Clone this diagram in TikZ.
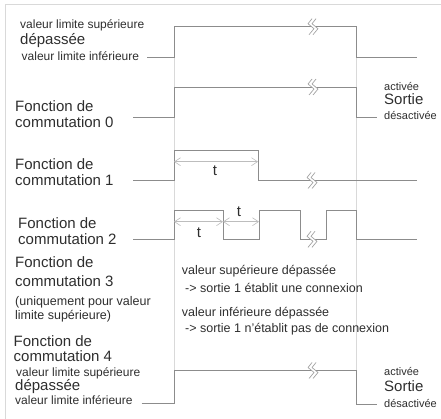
\documentclass[tikz,border=0pt]{standalone}
\usepackage{fontspec}
\setmainfont{Liberation Sans}
\usetikzlibrary{arrows.meta}
\definecolor{sigcol}{HTML}{8C8C8C}
\definecolor{guidecol}{HTML}{D9D9D9}
\definecolor{dimcol}{HTML}{BDBDBD}
\definecolor{txtcol}{HTML}{2E2E2E}

\begin{document}
\begin{tikzpicture}[x=1pt,y=-1pt,
  lbl/.style={inner sep=0pt,anchor=west,text height=.7em,text depth=0pt,text=txtcol},
  big/.style={lbl,font=\fontsize{15}{17}\selectfont},
  sml/.style={lbl,font=\fontsize{12}{14}\selectfont},
  mid/.style={lbl,font=\fontsize{12.5}{14}\selectfont},
  rgt/.style={lbl,font=\fontsize{11}{13}\selectfont},
  sig/.style={draw=sigcol,line width=.9pt},
  guide/.style={draw=guidecol,line width=.8pt},
  dim/.style={draw=dimcol,line width=.6pt,{Straight Barb[length=6pt,width=8pt]}-{Straight Barb[length=6pt,width=8pt]}},
  brk/.pic={
    \fill[white] (1,-8) -- (-3,-3) -- (3,2) -- (-2,8) -- (2,8) -- (7,2) -- (1,-3) -- (5,-8) -- cycle;
    \draw[draw=sigcol!80,line width=.7pt,line join=round] (1,-8) -- (-3,-3) -- (3,2) -- (-2,8) (5,-8) -- (1,-3) -- (7,2) -- (2,8);
  }]
\useasboundingbox (0,0) rectangle (441,419);
\clip (0,0) rectangle (441,419);
\draw[guide] (5.5,419) -- (5.5,4.5) -- (441,4.5);
\draw[guide] (174,26.7) -- (174,403) (356,26.7) -- (356,404);

\draw[sig] (147,57) -- (174,57) -- (174,26.7) -- (356,26.7) -- (356,57) -- (417,57);
\draw[sig] (133,117) -- (174,117) -- (174,87) -- (356,87) -- (356,117) -- (377,117);
\draw[sig] (133,180.5) -- (174,180.5) -- (174,150) -- (258,150) -- (258,180.5) -- (417,180.5);
\draw[sig] (133,239.3) -- (174,239.3) -- (174,210) -- (223,210) -- (223,239.3) -- (259,239.3) -- (259,210) -- (300.7,210)
  -- (300.7,239.3) -- (326,239.3) -- (326,210) -- (356,210) -- (356,239.3) -- (417,239.3);
\draw[sig] (141.7,403) -- (174,403) -- (174,370.5) -- (356,370.5) -- (356,404) -- (377,404);

\pic at (311,26.7) {brk};
\pic at (311,87) {brk};
\pic at (310,180.5) {brk};
\pic at (310,239.3) {brk};
\pic at (311,370.5) {brk};

\coordinate (d1a) at (174,161.7);
\coordinate (d1b) at (258,161.7);
\coordinate (d2a) at (174,221.7);
\coordinate (d2b) at (223,221.7);
\coordinate (d2c) at (259,221.7);
\draw[dim] (d1a) -- (d1b);
\draw[dim] (d2a) -- (d2b);
\draw[dim] (d2b) -- (d2c);
\node[big,anchor=center] (t1) at (215,172) {t};
\node[big,anchor=center] (t2) at (199,234) {t};
\node[big,anchor=center] (t3) at (239,213) {t};

\node[sml] (sa1) at (20,25) {valeur limite supérieure};
\node[big] (sa2) at (20,41.5) {dépassée};
\node[sml] (sa3) at (21.5,57) {valeur limite inférieure};
\node[big] (f0a) at (15,108) {Fonction de};
\node[big] (f0b) at (15,124) {commutation 0};
\node[big] (f1a) at (15,166.5) {Fonction de};
\node[big] (f1b) at (15,182.5) {commutation 1};
\node[big] (f2a) at (18,225) {Fonction de};
\node[big] (f2b) at (18,241.5) {commutation 2};
\node[big] (f3a) at (15,264.5) {Fonction de};
\node[big] (f3b) at (15,282.5) {commutation 3};
\node[mid] (f3c) at (15,302) {(uniquement pour valeur};
\node[mid] (f3d) at (15,315.5) {limite supérieure)};
\node[big] (f4a) at (13.5,343) {Fonction de};
\node[big] (f4b) at (13.5,357.5) {commutation 4};
\node[sml] (f4c) at (16,372.5) {valeur limite supérieure};
\node[big] (f4d) at (15,387) {dépassée};
\node[sml] (f4e) at (15,401) {valeur limite inférieure};

\node[mid] (m1) at (181.7,271) {valeur supérieure dépassée};
\node[mid] (m2) at (185,288.5) {-> sortie 1 établit une connexion};
\node[mid] (m3) at (181.7,312.5) {valeur inférieure dépassée};
\node[mid] (m4) at (185,329) {-> sortie 1 n'établit pas de connexion};

\node[rgt] (r0a) at (384,87) {activée};
\node[big] (r0b) at (384,101) {Sortie};
\node[rgt] (r0c) at (384,116) {désactivée};
\node[rgt] (r4a) at (384,372) {activée};
\node[big] (r4b) at (384,388) {Sortie};
\node[rgt] (r4c) at (384,404) {désactivée};
\end{tikzpicture}
\end{document}
